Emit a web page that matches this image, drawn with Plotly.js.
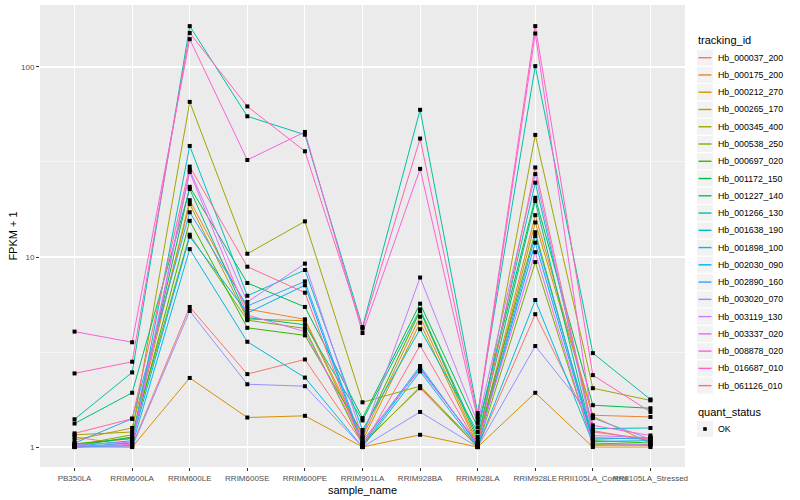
<!DOCTYPE html>
<html>
<head>
<meta charset="utf-8">
<script src="https://cdn.plot.ly/plotly-3.0.1.min.js"></script>
<style>html,body{margin:0;padding:0;background:#fff}#chart{width:800px;height:500px}</style>
</head>
<body>
<div id="chart"></div>
<script>
// Categories (x axis)
const sampleNames = ["PB350LA","RRIM600LA","RRIM600LE","RRIM600SE","RRIM600PE","RRIM901LA","RRIM928BA","RRIM928LA","RRIM928LE","RRII105LA_Control","RRII105LA_Stressed"];

// Series names (tracking_id)
const trackingIds = ["Hb_000037_200","Hb_000175_200","Hb_000212_270","Hb_000265_170","Hb_000345_400","Hb_000538_250","Hb_000697_020","Hb_001172_150","Hb_001227_140","Hb_001266_130","Hb_001638_190","Hb_001898_100","Hb_002030_090","Hb_002890_160","Hb_003020_070","Hb_003119_130","Hb_003337_020","Hb_008878_020","Hb_016687_010","Hb_061126_010"];

// FPKM + 1 values, one array per tracking_id (order = sampleNames)
const hb_000037_200 = [1.13, 1.02, 5.46, 2.42, 2.89, 1.05, 2.04, 1.00, 5.00, 1.22, 1.08];
const hb_000175_200 = [1.03, 1.11, 19.9, 5.32, 4.70, 1.13, 4.85, 1.05, 16.6, 1.47, 1.44];
const hb_000212_270 = [1.00, 1.00, 2.31, 1.43, 1.46, 1.00, 1.16, 1.00, 1.93, 1.00, 1.00];
const hb_000265_170 = [1.09, 1.26, 19.0, 4.72, 4.62, 1.08, 4.51, 1.02, 15.2, 1.45, 1.05];
const hb_000345_400 = [1.16, 1.20, 65.5, 10.4, 15.4, 1.72, 2.09, 1.02, 43.9, 2.04, 1.76];
const hb_000538_250 = [1.02, 1.16, 13.1, 4.65, 4.21, 1.03, 2.08, 1.00, 9.40, 1.03, 1.02];
const hb_000697_020 = [1.04, 1.11, 15.5, 4.24, 3.87, 1.18, 5.20, 1.09, 13.5, 1.08, 1.05];
const hb_001172_150 = [1.01, 1.13, 23.4, 7.30, 5.46, 1.42, 5.68, 1.27, 20.5, 1.66, 1.60];
const hb_001227_140 = [1.33, 1.93, 22.8, 4.80, 4.40, 1.38, 5.30, 1.13, 19.7, 1.10, 1.12];
const hb_001266_130 = [1.40, 2.47, 164, 55.0, 44.0, 4.28, 59.5, 1.51, 101, 3.12, 1.78];
const hb_001638_190 = [1.00, 1.05, 38.4, 6.25, 8.54, 1.23, 4.17, 1.20, 24.6, 1.25, 1.26];
const hb_001898_100 = [1.00, 1.02, 11.0, 3.58, 2.32, 1.00, 2.50, 1.00, 5.94, 1.05, 1.03];
const hb_002030_090 = [1.01, 1.08, 12.8, 5.07, 7.10, 1.02, 2.61, 1.03, 11.9, 1.07, 1.08];
const hb_002890_160 = [1.05, 1.41, 17.2, 5.52, 7.44, 1.05, 2.67, 1.02, 12.9, 1.12, 1.10];
const hb_003020_070 = [1.02, 1.00, 5.20, 2.14, 2.09, 1.00, 1.53, 1.00, 3.40, 1.42, 1.10];
const hb_003119_130 = [1.03, 1.06, 28.7, 5.80, 9.23, 1.13, 7.80, 1.34, 27.3, 1.15, 1.12];
const hb_003337_020 = [1.01, 1.03, 28.0, 4.95, 4.05, 1.08, 2.56, 1.05, 10.6, 1.02, 1.03];
const hb_008878_020 = [4.05, 3.56, 140, 32.4, 45.5, 3.98, 29.1, 1.40, 150, 1.30, 1.15];
const hb_016687_010 = [2.44, 2.81, 151, 62.0, 36.0, 4.20, 42.0, 1.45, 164, 2.39, 1.53];
const hb_061126_010 = [1.18, 1.41, 29.9, 8.89, 6.49, 1.00, 3.43, 1.02, 29.6, 1.20, 1.10];

const seriesValues = [hb_000037_200, hb_000175_200, hb_000212_270, hb_000265_170, hb_000345_400, hb_000538_250, hb_000697_020, hb_001172_150, hb_001227_140, hb_001266_130, hb_001638_190, hb_001898_100, hb_002030_090, hb_002890_160, hb_003020_070, hb_003119_130, hb_003337_020, hb_008878_020, hb_016687_010, hb_061126_010];

// ggplot2 hue palette for 20 levels
const palette = ["#F8766D","#EA8331","#D89000","#C09B00","#A3A500","#7CAE00","#39B600","#00BB4E","#00BF7D","#00C1A3","#00BFC4","#00BAE0","#00B0F6","#35A2FF","#9590FF","#C77CFF","#E76BF3","#FA62DB","#FF62BC","#FF6C91"];

const quantStatus = "OK";

const traces = [];
trackingIds.forEach((id, i) => {
  traces.push({
    type: "scatter", mode: "lines", name: id,
    x: sampleNames, y: seriesValues[i],
    line: {color: palette[i], width: 1},
    hoverinfo: "skip", showlegend: false
  });
});
// points (quant_status)
const px = [], py = [];
seriesValues.forEach(vals => vals.forEach((v, j) => { px.push(sampleNames[j]); py.push(v); }));
traces.push({
  type: "scatter", mode: "markers", name: quantStatus,
  x: px, y: py,
  marker: {color: "#000000", symbol: "square", size: 4},
  showlegend: false
});

// ---- legend drawn in paper coordinates (ggplot-style keys) ----
const M = {l: 40, r: 115, t: 5, b: 33}, W = 800, H = 500;
const pw = W - M.l - M.r, ph = H - M.t - M.b;
const fx = p => (p - M.l) / pw;
const fy = p => (H - M.b - p) / ph;
const fontFam = "Liberation Sans, Arial, sans-serif";
const shapes = [], annotations = [];
function title(text, yPx) {
  annotations.push({xref: "paper", yref: "paper", x: fx(696), y: fy(yPx), xanchor: "left", yanchor: "middle",
    text: text, showarrow: false, font: {size: 11, color: "#000", family: fontFam}});
}
function keyBox(yc) {
  shapes.push({type: "rect", xref: "paper", yref: "paper", x0: fx(697), x1: fx(713), y0: fy(yc - 8), y1: fy(yc + 8),
    fillcolor: "#F2F2F2", line: {width: 0}, layer: "above"});
}
function label(text, yc) {
  annotations.push({xref: "paper", yref: "paper", x: fx(716), y: fy(yc), xanchor: "left", yanchor: "middle",
    text: text, showarrow: false, font: {size: 8.8, color: "#000", family: fontFam}});
}
title("tracking_id", 40.5);
const row0 = 57.7, rowStep = 17.26;
trackingIds.forEach((id, i) => {
  const yc = row0 + i * rowStep;
  keyBox(yc);
  shapes.push({type: "line", xref: "paper", yref: "paper", x0: fx(698.5), x1: fx(711.5), y0: fy(yc), y1: fy(yc),
    line: {color: palette[i], width: 1.4}, layer: "above"});
  label(id, yc);
});
title("quant_status", 412.3);
const okY = 429;
keyBox(okY);
shapes.push({type: "rect", xref: "paper", yref: "paper", x0: fx(703.2), x1: fx(706.8), y0: fy(okY - 1.8), y1: fy(okY + 1.8),
  fillcolor: "#000", line: {width: 0}, layer: "above"});
label(quantStatus, okY);

const layout = {
  width: W, height: H,
  margin: M,
  paper_bgcolor: "#FFFFFF",
  plot_bgcolor: "#EBEBEB",
  font: {family: fontFam, color: "#000"},
  showlegend: false,
  shapes: shapes,
  annotations: annotations,
  xaxis: {
    type: "category",
    range: [-0.6, 10.6],
    showgrid: true, gridcolor: "#FFFFFF", gridwidth: 1.1,
    zeroline: false, showline: false,
    ticks: "outside", ticklen: 3, tickcolor: "#333333", tickwidth: 1,
    tickangle: 0,
    tickfont: {size: 8, color: "#4D4D4D", family: fontFam},
    title: {text: "sample_name", font: {size: 11, color: "#000"}, standoff: 4}
  },
  yaxis: {
    type: "log",
    range: [-0.105, 2.326],
    tickvals: [1, 10, 100],
    ticktext: ["1", "10", "100"],
    showgrid: true, gridcolor: "#FFFFFF", gridwidth: 1.1,
    minor: {tickvals: [Math.sqrt(10), Math.sqrt(1000)], showgrid: true, gridcolor: "#FFFFFF", gridwidth: 0.5, ticks: ""},
    zeroline: false, showline: false,
    ticks: "outside", ticklen: 3, tickcolor: "#333333", tickwidth: 1,
    tickfont: {size: 8, color: "#4D4D4D", family: fontFam},
    title: {text: "FPKM + 1", font: {size: 11, color: "#000"}, standoff: 1}
  }
};

Plotly.newPlot("chart", traces, layout, {displayModeBar: false, staticPlot: true});
</script>
</body>
</html>
